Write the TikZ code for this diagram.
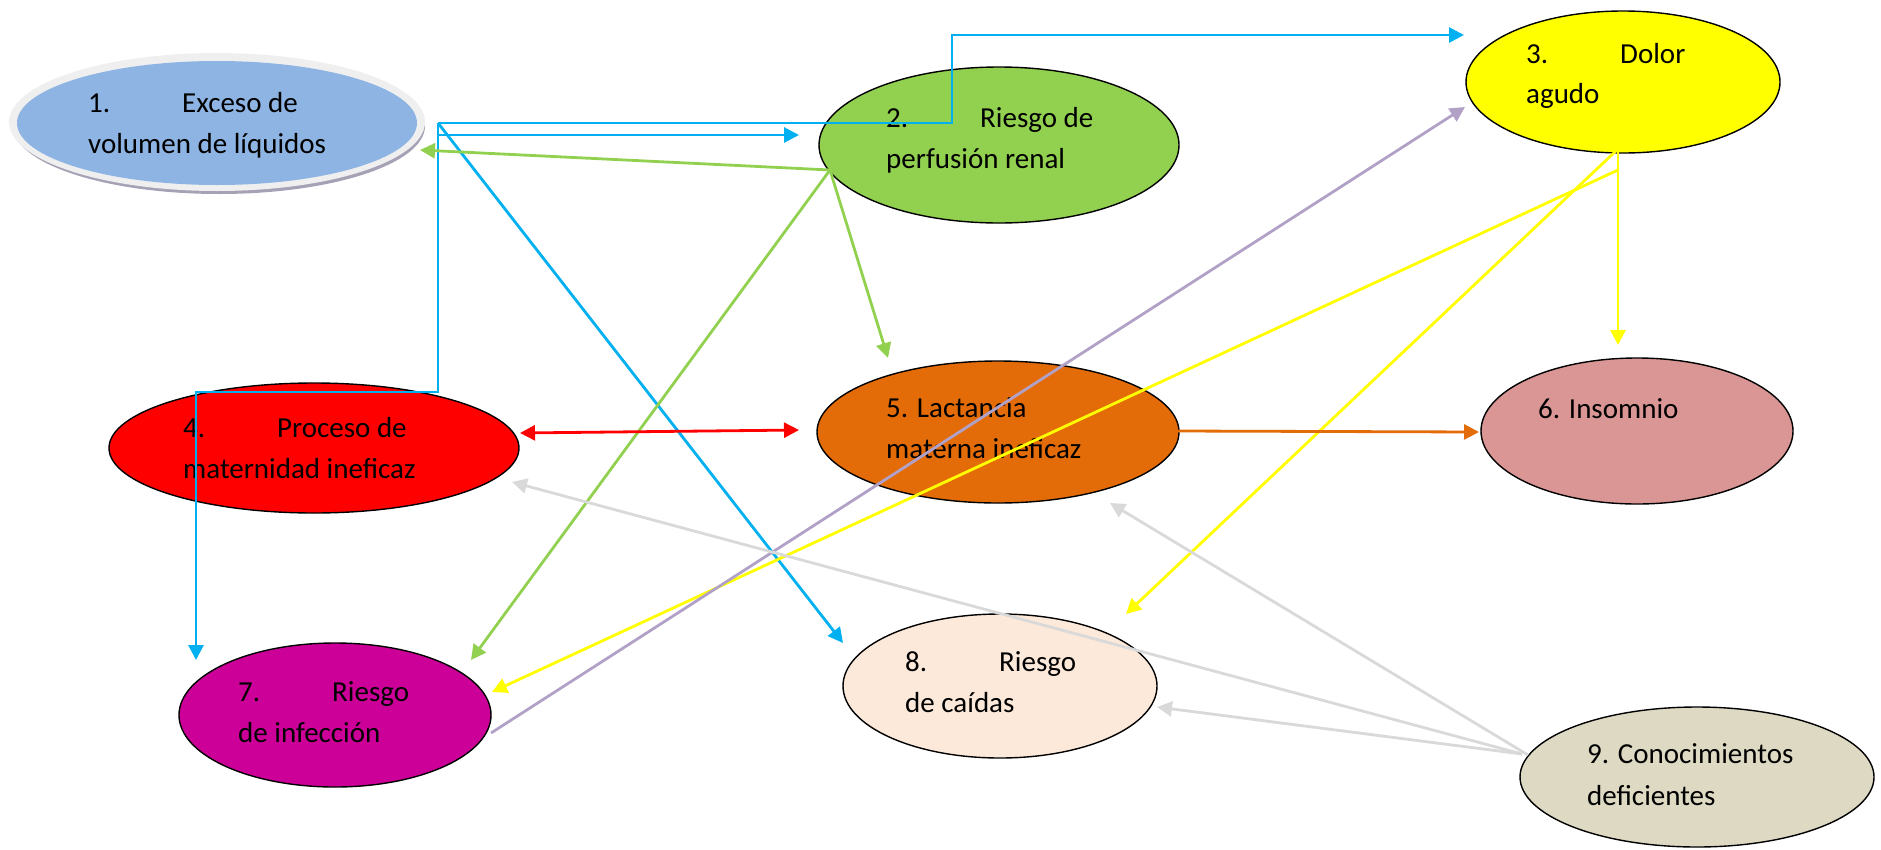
\documentclass[tikz,border=0pt]{standalone}
\usepackage{fontspec}
\setmainfont{Carlito}
\usetikzlibrary{arrows.meta,shapes.geometric}
\definecolor{cA}{HTML}{8EB4E3}
\definecolor{cB}{HTML}{92D050}
\definecolor{cC}{HTML}{FFFF00}
\definecolor{cD}{HTML}{FF0000}
\definecolor{cE}{HTML}{E36C09}
\definecolor{cF}{HTML}{D99694}
\definecolor{cG}{HTML}{CC0099}
\definecolor{cH}{HTML}{FDE9D9}
\definecolor{cI}{HTML}{DDD9C3}
\definecolor{lcyan}{HTML}{00B0F0}
\definecolor{llav}{HTML}{B2A1C7}
\definecolor{lgrey}{HTML}{D9D9D9}
\definecolor{rimgrey}{HTML}{EFEFEF}
\definecolor{shadgrey}{HTML}{A7A1B6}
\newcommand\tabnum[1]{\makebox[94pt][l]{#1}}
\begin{document}
\begin{tikzpicture}[x=1pt,y=-1pt,
  ell/.style={ellipse, draw=black, line width=1.4pt, inner sep=0pt},
  txt/.style={anchor=base west, inner sep=0pt, font=\fontsize{29}{41}\selectfont},
  conn/.style={line width=2.8pt, -{Triangle[length=15pt,width=15pt]}},
  both/.style={line width=2.8pt, {Triangle[length=15pt,width=15pt]}-{Triangle[length=15pt,width=15pt]}},
  plain/.style={line width=2.8pt}]
\useasboundingbox (0,0) rectangle (1881,849);
% node 1 (shadowed)
\node[ellipse, fill=shadgrey, inner sep=0pt, minimum width=412pt, minimum height=136pt] (n1s) at (219,126) {};
\node[ellipse, fill=rimgrey, inner sep=0pt, minimum width=416pt, minimum height=138pt] (n1r) at (217,122) {};
\node[ellipse, fill=cA, inner sep=0pt, minimum width=400pt, minimum height=124pt] (n1) at (217,123) {};
\node[txt] (t1a) at (88,112) {\tabnum{1.}Exceso de};
\node[txt] (t1b) at (88,153) {volumen de líquidos};
% node 2
\node[ell, fill=cB, minimum width=360pt, minimum height=156pt] (n2) at (999,145) {};
\node[txt] (t2a) at (886,127) {\tabnum{2.}Riesgo de};
\node[txt] (t2b) at (886,168) {perfusión renal};
% node 3
\node[ell, fill=cC, minimum width=314pt, minimum height=142pt] (n3) at (1623,82) {};
\node[txt] (t3a) at (1526,63) {\tabnum{3.}Dolor};
\node[txt] (t3b) at (1526,103) {agudo};
% node 4
\node[ell, fill=cD, minimum width=410pt, minimum height=130pt] (n4) at (314,448) {};
\node[txt] (t4a) at (183,437) {\tabnum{4.}Proceso de};
\node[txt] (t4b) at (183,478) {maternidad ineficaz};
% node 5
\node[ell, fill=cE, minimum width=362pt, minimum height=142pt] (n5) at (998,432) {};
\node[txt] (t5a) at (886,417) {5. Lactancia};
\node[txt] (t5b) at (886,458) {materna ineficaz};
% node 6
\node[ell, fill=cF, minimum width=312pt, minimum height=146pt] (n6) at (1637,431) {};
\node[txt] (t6a) at (1538,418) {6. Insomnio};
% node 7
\node[ell, fill=cG, minimum width=312pt, minimum height=144pt] (n7) at (335,715) {};
\node[txt] (t7a) at (238,701) {\tabnum{7.}Riesgo};
\node[txt] (t7b) at (238,742) {de infección};
% node 8
\node[ell, fill=cH, minimum width=314pt, minimum height=144pt] (n8) at (1000,686) {};
\node[txt] (t8a) at (905,671) {\tabnum{8.}Riesgo};
\node[txt] (t8b) at (905,712) {de caídas};
% node 9
\node[ell, fill=cI, minimum width=354pt, minimum height=140pt] (n9) at (1697,777) {};
\node[txt] (t9a) at (1587,763) {9. Conocimientos};
\node[txt] (t9b) at (1587,805) {deficientes};
% coordinates
\coordinate (j1) at (438,123);
\coordinate (j1b) at (438,135);
\coordinate (c1a) at (952,123);
\coordinate (c1b) at (952,35);
\coordinate (e3a) at (1464,35);
\coordinate (e2a) at (799,135);
\coordinate (c1c) at (438,392);
\coordinate (c1d) at (196,392);
\coordinate (e7a) at (196,660);
\coordinate (e8a) at (843,643);
\coordinate (g0) at (830,170);
\coordinate (e1g) at (420,150);
\coordinate (e7g) at (471,660);
\coordinate (e5g) at (888,358);
\coordinate (y0) at (1618,149);
\coordinate (y1) at (1618,170);
\coordinate (e6y) at (1618,345);
\coordinate (e8y) at (1126,614);
\coordinate (e7y) at (492,692);
\coordinate (s7l) at (491,733);
\coordinate (e3l) at (1465,107);
\coordinate (s4r) at (520,433);
\coordinate (e5r) at (799,430);
\coordinate (s5o) at (1178,431);
\coordinate (e6o) at (1479,432);
\coordinate (s9a) at (1522,754);
\coordinate (s9b) at (1528,755);
\coordinate (e8g) at (1157,707);
\coordinate (e4g) at (512,482);
\coordinate (e5gr) at (1110,503);
% connectors: cyan
\draw[conn, lcyan] (j1) -- (c1a) -- (c1b) -- (e3a);
\draw[conn, lcyan] (j1b) -- (e2a);
\draw[conn, lcyan] (j1) -- (c1c) -- (c1d) -- (e7a);
\draw[conn, lcyan] (j1) -- (e8a);
% green
\draw[conn, cB] (g0) -- (e1g);
\draw[conn, cB] (g0) -- (e7g);
\draw[conn, cB] (g0) -- (e5g);
% yellow
\draw[conn, cC] (y0) -- (e6y);
\draw[conn, cC] (y0) -- (e8y);
\draw[conn, cC] (y1) -- (e7y);
% lavender
\draw[conn, llav] (s7l) -- (e3l);
% red
\draw[both, cD] (s4r) -- (e5r);
% orange
\draw[conn, cE] (s5o) -- (e6o);
% grey
\draw[conn, lgrey] (s9a) -- (e8g);
\draw[conn, lgrey] (s9a) -- (e4g);
\draw[conn, lgrey] (s9b) -- (e5gr);
\end{tikzpicture}
\end{document}
